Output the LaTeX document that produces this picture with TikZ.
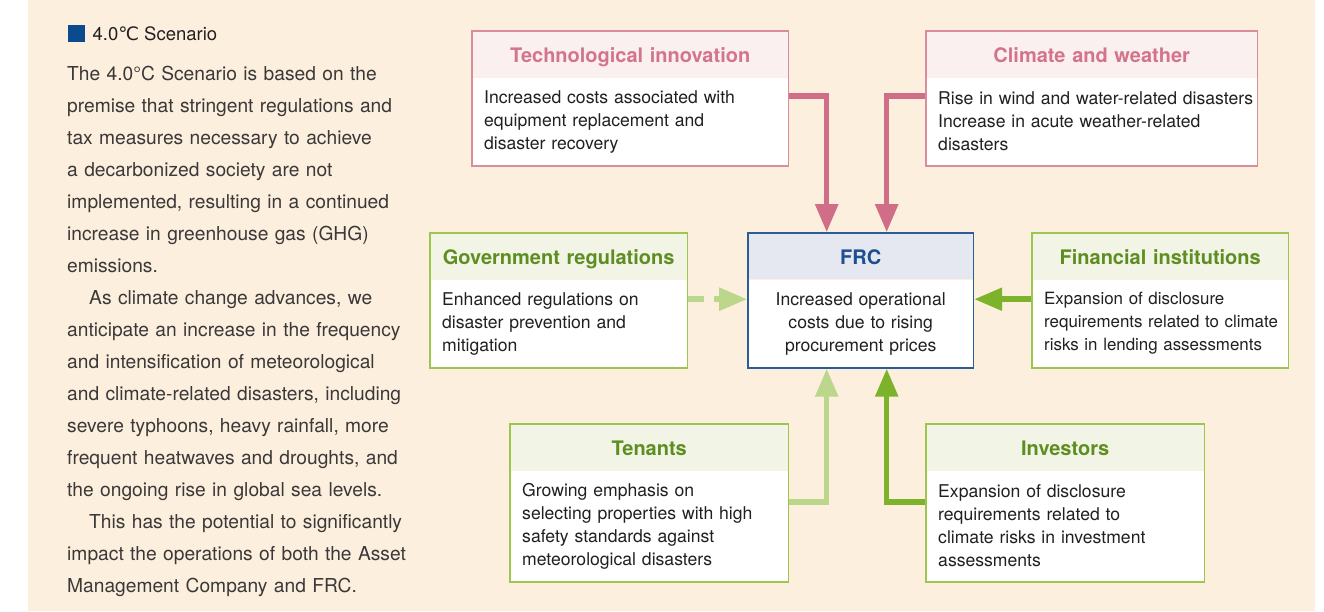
\documentclass[tikz,border=0pt]{standalone}
\usepackage{fontspec}
\setmainfont{TeX Gyre Heros}
\newfontfamily\symf{DejaVu Sans}
\usepackage{tikz}
\usetikzlibrary{arrows.meta,fit,calc,positioning}

\definecolor{bgbeige}{RGB}{253,239,221}
\definecolor{txt}{RGB}{35,31,32}
\definecolor{lefttxt}{RGB}{58,56,56}
\definecolor{sqblue}{RGB}{11,74,142}
\definecolor{pinkln}{RGB}{219,140,156}
\definecolor{pinkhd}{RGB}{251,240,240}
\definecolor{pinkt}{RGB}{212,116,138}
\definecolor{pinkarr}{RGB}{207,110,134}
\definecolor{greenln}{RGB}{157,198,81}
\definecolor{greenhd}{RGB}{242,245,230}
\definecolor{greent}{RGB}{94,142,34}
\definecolor{dgarr}{RGB}{124,179,43}
\definecolor{lgarr}{RGB}{188,214,139}
\definecolor{blueln}{RGB}{42,92,154}
\definecolor{bluehd}{RGB}{229,231,241}
\definecolor{bluet}{RGB}{29,79,145}

\tikzset{hdr/.style={rectangle, minimum height=46pt, inner xsep=12pt, inner ysep=0pt, text height=17.5pt, text depth=0pt, align=center, font=\fontsize{20}{22}\selectfont\bfseries}}
\tikzset{bdy/.style={rectangle, fill=white, inner xsep=12pt, inner ysep=0pt, align=left, text=txt, font=\fontsize{17.6}{23}\selectfont}}
\tikzset{frame/.style={draw=#1, line width=1.6pt, inner sep=0pt}}
\tikzstyle{arr}=[line width=5.5pt, -{Triangle[length=28pt,width=22pt]}]

\begin{document}
\begin{tikzpicture}[x=1pt, y=-1pt, node distance=0pt]
\useasboundingbox (0,0) rectangle (1324,611);
\fill[bgbeige] (28,0) rectangle (1315,611);

% left column
\node[fill=sqblue, minimum size=17pt, inner sep=0pt, anchor=north west] (Sq) at (68,25) {};
\node[right=7pt of Sq, inner sep=0pt, text=txt, font=\fontsize{18.5}{22}\selectfont] (Head) {4.0{\symf ℃} Scenario};
\node[anchor=north west, inner sep=0pt, text width=360pt, align=left, text=lefttxt, font=\fontsize{19.2}{32}\selectfont] (Intro) at (67,66)
 {The 4.0°C Scenario is based on the\\
  premise that stringent regulations and\\
  tax measures necessary to achieve\\
  a decarbonized society are not\\
  implemented, resulting in a continued\\
  increase in greenhouse gas (GHG)\\
  emissions.\\
  \hspace*{22pt}As climate change advances, we\\
  anticipate an increase in the frequency\\
  and intensification of meteorological\\
  and climate-related disasters, including\\
  severe typhoons, heavy rainfall, more\\
  frequent heatwaves and droughts, and\\
  the ongoing rise in global sea levels.\\
  \hspace*{22pt}This has the potential to significantly\\
  impact the operations of both the Asset\\
  Management Company and FRC.};

% top boxes
\node[hdr, fill=pinkhd, text=pinkt, text width=292pt, anchor=north west] (TechH) at (472,31) {Technological innovation};
\node[bdy, text width=292pt, minimum height=88pt, below=of TechH] (TechB)
 {Increased costs associated with\\equipment replacement and\\disaster recovery};
\node[frame=pinkln, fit=(TechH)(TechB)] (Tech) {};

\node[hdr, fill=pinkhd, text=pinkt, text width=307pt, anchor=north west] (ClimH) at (926,31) {Climate and weather};
\node[bdy, text width=307pt, minimum height=88pt, below=of ClimH] (ClimB)
 {\mbox{Rise in wind and water-related disasters}\\Increase in acute weather-related\\disasters};
\node[frame=pinkln, fit=(ClimH)(ClimB)] (Clim) {};

% middle row
\node[hdr, fill=greenhd, text=greent, text width=233pt, anchor=north west] (GovH) at (430,233) {Government regulations};
\node[bdy, text width=233pt, minimum height=88pt, below=of GovH] (GovB)
 {Enhanced regulations on\\disaster prevention and\\mitigation};
\node[frame=greenln, fit=(GovH)(GovB)] (Gov) {};

\node[hdr, fill=bluehd, text=bluet, text width=201pt, anchor=north west] (FRCH) at (748,233) {FRC};
\node[bdy, align=center, text width=201pt, minimum height=88pt, below=of FRCH] (FRCB)
 {Increased operational\\costs due to rising\\procurement prices};
\node[frame=blueln, fit=(FRCH)(FRCB)] (FRC) {};

\node[hdr, fill=greenhd, text=greent, text width=232pt, anchor=north west] (FinH) at (1032,233) {Financial institutions};
\node[bdy, text width=232pt, minimum height=88pt, font=\fontsize{16.9}{23}\selectfont, below=of FinH] (FinB)
 {Expansion of disclosure\\\mbox{requirements related to climate}\\risks in lending assessments};
\node[frame=greenln, fit=(FinH)(FinB)] (Fin) {};

% bottom boxes
\node[hdr, fill=greenhd, text=greent, text width=254pt, anchor=north west] (TenH) at (510,424) {Tenants};
\node[bdy, text width=254pt, minimum height=111pt, below=of TenH] (TenB)
 {Growing emphasis on\\selecting properties with high\\safety standards against\\meteorological disasters};
\node[frame=greenln, fit=(TenH)(TenB)] (Ten) {};

\node[hdr, fill=greenhd, text=greent, text width=254pt, anchor=north west] (InvH) at (926,424) {Investors};
\node[bdy, text width=254pt, minimum height=111pt, below=of InvH] (InvB)
 {Expansion of disclosure\\requirements related to\\climate risks in investment\\assessments};
\node[frame=greenln, fit=(InvH)(InvB)] (Inv) {};

% arrows into FRC
\draw[arr, pinkarr] ([yshift=-66pt]Tech.north east) -| ([xshift=-34pt]FRC.north);
\draw[arr, pinkarr] ([yshift=-66pt]Clim.north west) -| ([xshift=26pt]FRC.north);
\draw[arr, lgarr, dash pattern=on 16pt off 10pt] ([yshift=-67pt]Gov.north east) -- ([yshift=-67pt]FRC.north west);
\draw[arr, dgarr] ([yshift=-67pt]Fin.north west) -- ([yshift=-67pt]FRC.north east);
\draw[arr, lgarr] ([yshift=-79pt]Ten.north east) -| ([xshift=-34pt]FRC.south);
\draw[arr, dgarr] ([yshift=-79pt]Inv.north west) -| ([xshift=26pt]FRC.south);
\end{tikzpicture}
\end{document}
